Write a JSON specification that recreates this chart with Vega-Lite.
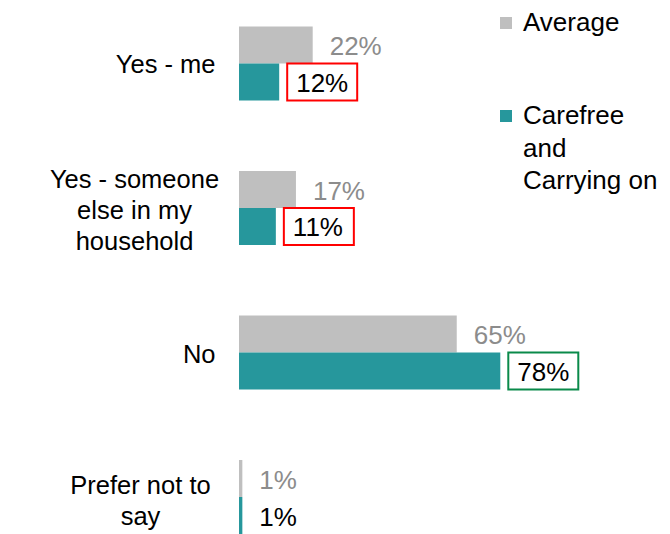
{
  "$schema": "https://vega.github.io/schema/vega-lite/v6.json",
  "width": 335,
  "height": 534,
  "autosize": "none",
  "padding": {"left": 239, "top": 0, "right": 96, "bottom": 0},
  "background": "white",
  "config": {
    "view": {"stroke": null},
    "font": "Liberation Sans",
    "text": {"font": "Liberation Sans"}
  },
  "data": {
    "values": [
      {"category": "Yes - me", "series": "Average", "value": 0.22, "compare": null},
      {"category": "Yes - me", "series": "Carefree and Carrying on", "value": 0.12, "compare": "lower"},
      {"category": "Yes - someone else in my household", "series": "Average", "value": 0.17, "compare": null},
      {"category": "Yes - someone else in my household", "series": "Carefree and Carrying on", "value": 0.11, "compare": "lower"},
      {"category": "No", "series": "Average", "value": 0.65, "compare": null},
      {"category": "No", "series": "Carefree and Carrying on", "value": 0.78, "compare": "higher"},
      {"category": "Prefer not to say", "series": "Average", "value": 0.01, "compare": null},
      {"category": "Prefer not to say", "series": "Carefree and Carrying on", "value": 0.01, "compare": null}
    ]
  },
  "encoding": {
    "y": {
      "field": "category",
      "type": "nominal",
      "sort": ["Yes - me", "Yes - someone else in my household", "No", "Prefer not to say"],
      "scale": {"paddingInner": 0.488, "paddingOuter": 0.0917, "align": 1},
      "axis": {
        "title": null,
        "domain": false,
        "ticks": false,
        "labelFontSize": 25.5,
        "labelColor": "#000000",
        "labelFont": "Liberation Sans",
        "labelLimit": 400,
        "labelLineHeight": 31,
        "labelExpr": "datum.value == 'Yes - someone else in my household' ? ['Yes - someone', 'else in my', 'household'] : datum.value == 'Prefer not to say' ? ['Prefer not to', 'say'] : datum.value",
        "labelAlign": {
          "condition": {"test": "datum.value == 'Yes - someone else in my household' || datum.value == 'Prefer not to say'", "value": "center"},
          "value": "right"
        },
        "labelPadding": {
          "condition": [
            {"test": "datum.value == 'Yes - someone else in my household'", "value": 105},
            {"test": "datum.value == 'Prefer not to say'", "value": 99}
          ],
          "value": 24
        },
        "labelOffset": {
          "condition": [
            {"test": "datum.value == 'Yes - someone else in my household'", "value": -28},
            {"test": "datum.value == 'Prefer not to say'", "value": -11}
          ],
          "value": 2
        }
      }
    },
    "yOffset": {
      "field": "series",
      "type": "nominal",
      "sort": ["Average", "Carefree and Carrying on"],
      "scale": {"paddingInner": 0, "paddingOuter": 0}
    },
    "x": {
      "field": "value",
      "type": "quantitative",
      "scale": {"domain": [0, 1], "nice": false},
      "axis": null
    }
  },
  "layer": [
    {
      "mark": {"type": "bar", "cornerRadius": 0},
      "encoding": {
        "color": {
          "field": "series",
          "type": "nominal",
          "scale": {"domain": ["Average", "Carefree and Carrying on"], "range": ["#bfbfbf", "#26979c"]},
          "legend": {
            "title": null,
            "orient": "none",
            "legendX": 254,
            "legendY": 10,
            "padding": 0,
            "symbolType": "square",
            "symbolSize": 144,
            "symbolStrokeWidth": 0,
            "labelFontSize": 26,
            "labelFont": "Liberation Sans",
            "labelColor": "#000000",
            "labelOffset": 4,
            "labelLimit": 300,
            "rowPadding": 67,
            "labelExpr": "datum.label == 'Carefree and Carrying on' ? ['Carefree', 'and', 'Carrying on'] : datum.label",
            "encode": {
              "labels": {"update": {"lineHeight": {"value": 32.5}}}
            }
          }
        }
      }
    },
    {
      "transform": [{"filter": "datum.compare != null"}],
      "mark": {"type": "rect", "fill": "transparent", "strokeWidth": 2, "xOffset": 8, "x2Offset": 78},
      "encoding": {
        "x2": {"field": "value"},
        "stroke": {
          "field": "compare",
          "type": "nominal",
          "scale": {"domain": ["lower", "higher"], "range": ["#ff0000", "#0a8a4a"]},
          "legend": null
        }
      }
    },
    {
      "mark": {"type": "text", "align": "left", "baseline": "middle", "dx": 17, "dy": 2, "fontSize": 26, "font": "Liberation Sans"},
      "encoding": {
        "text": {"field": "value", "type": "quantitative", "format": ".0%"},
        "color": {
          "condition": {"test": "datum.series == 'Average'", "value": "#8c8c8c"},
          "value": "#000000"
        }
      }
    }
  ]
}
